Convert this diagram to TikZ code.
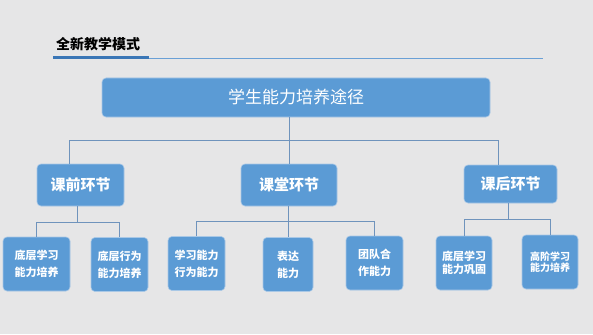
\documentclass[tikz,border=0pt]{standalone}
\usepackage{fontspec}
\setmainfont{Noto Sans CJK SC}
\newfontfamily\cjkb[BoldFont={Noto Sans CJK SC Bold}]{Noto Sans CJK SC}
\begin{document}
\begin{tikzpicture}[x=1pt,y=-1pt,
  bg/.style={fill=bgc},
  box/.style={draw=boxline,line width=0.6pt,fill=boxc,rounded corners=4pt,text=white,inner sep=0pt,align=center},
  link/.style={draw=linec,line width=0.7pt}]
\definecolor{bgc}{HTML}{E6E6E7}
\definecolor{boxc}{HTML}{5B9BD5}
\definecolor{boxline}{HTML}{A9C8E6}
\definecolor{linec}{HTML}{6F93BC}
\definecolor{ulc}{HTML}{3A76B6}
\definecolor{thinc}{HTML}{6AA0D6}
\fill[bgc] (0,0) rectangle (593,334);
\useasboundingbox (0,0) rectangle (593,334);
% title
\node[anchor=west,inner sep=0pt,font=\fontsize{14}{16}\selectfont\bfseries] (title) at (56,44) {全新教学模式};
\fill[ulc] (53,56) rectangle (149,59.5);
\draw[thinc,line width=0.8pt] (149,58) -- (543,58);
% top
\node[box,minimum width=388pt,minimum height=39pt,font=\fontsize{17}{20}\selectfont] (top) at (296,97.5) {学生能力培养途径};
% level 2
\node[box,minimum width=87pt,minimum height=42pt,font=\fontsize{15}{18}\selectfont\bfseries] (A) at (80.5,185) {课前环节};
\node[box,minimum width=96pt,minimum height=42pt,font=\fontsize{15}{18}\selectfont\bfseries] (B) at (289,185) {课堂环节};
\node[box,minimum width=93pt,minimum height=38pt,font=\fontsize{15}{18}\selectfont\bfseries] (C) at (510.5,184) {课后环节};
% level 3
\tikzset{leaf/.style={box,minimum height=54pt,font=\fontsize{11}{17}\selectfont\bfseries}}
\node[leaf,minimum width=67pt] (a1) at (36.5,264) {底层学习\\能力培养};
\node[leaf,minimum width=57pt] (a2) at (119.5,264.5) {底层行为\\能力培养};
\node[leaf,minimum width=57pt] (b1) at (196.5,263.5) {学习能力\\行为能力};
\node[leaf,minimum width=50pt] (b2) at (288,264.5) {表达\\能力};
\node[leaf,minimum width=57pt] (b3) at (374.5,263) {团队合\\作能力};
\node[leaf,minimum width=56pt,font=\fontsize{11}{13}\selectfont\bfseries] (c1) at (464,263) {底层学习\\能力巩固};
\node[leaf,minimum width=56pt,font=\fontsize{10}{11}\selectfont\bfseries] (c2) at (550,262) {高阶学习\\能力培养};
% connectors level 1-2
\coordinate (hA) at (69,140);
\coordinate (hC) at (498,140);
\draw[link] (hA) -- (hC);
\draw[link] (hA) -- (hA |- A.north);
\draw[link] (hC) -- (hC |- C.north);
\draw[link] (B.north) -- (B.north |- top.south);
% level 2-3
\coordinate (jA) at (77,222);
\draw[link] (jA |- A.south) -- (jA);
\draw[link] (a1.north) -- (a1.north |- jA) -- (a2.north |- jA) -- (a2.north);
\coordinate (jB) at (288,221);
\draw[link] (jB |- B.south) -- (b2.north);
\draw[link] (b1.north) -- (b1.north |- jB) -- (b3.north |- jB) -- (b3.north);
\coordinate (jC) at (508,219);
\draw[link] (jC |- C.south) -- (jC);
\draw[link] (c1.north) -- (c1.north |- jC) -- (c2.north |- jC) -- (c2.north);
\end{tikzpicture}
\end{document}
